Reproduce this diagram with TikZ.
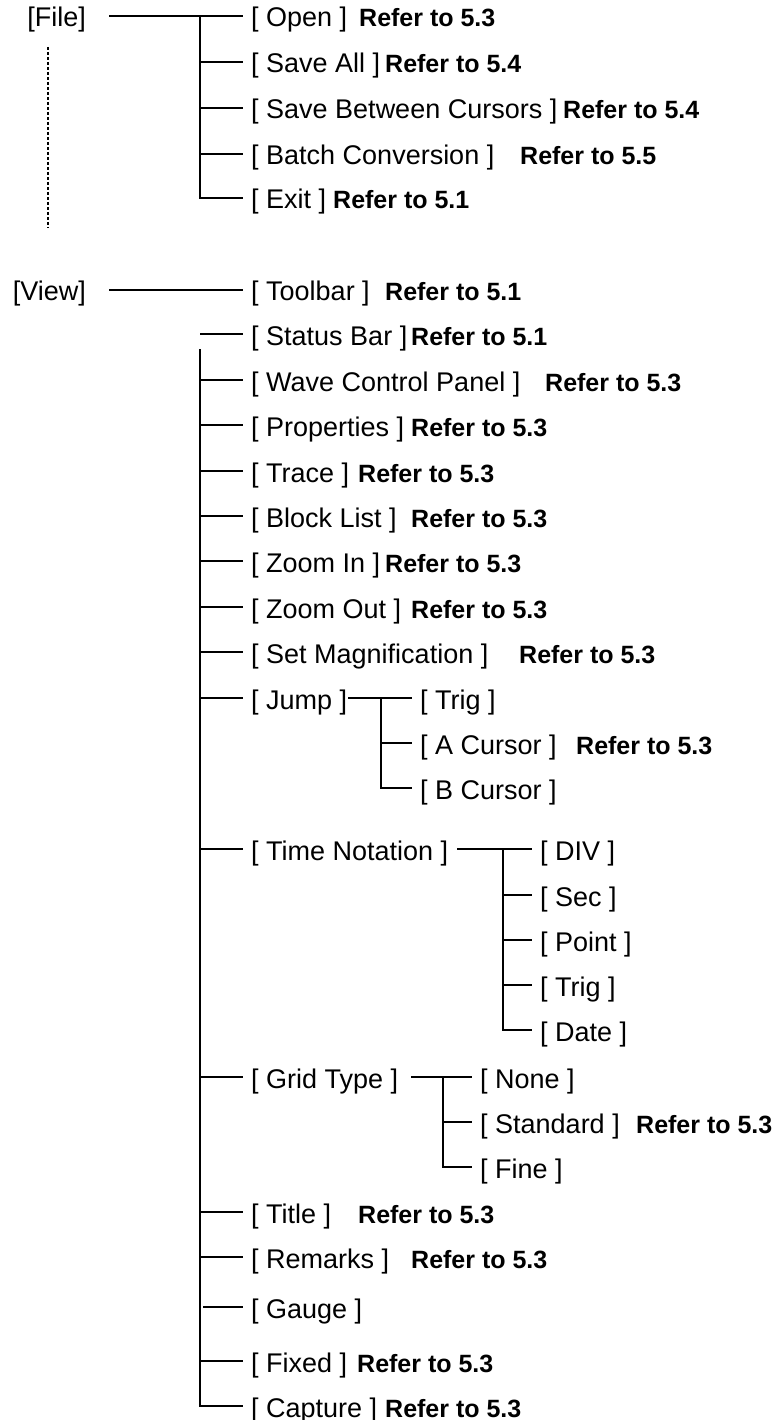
\documentclass[tikz,border=0pt]{standalone}
\usepackage{fontspec}
\setmainfont{Liberation Sans}
\usetikzlibrary{positioning}
\tikzset{
	menu/.style={anchor=west, inner xsep=8pt, inner ysep=0pt, text height=22pt, text depth=0pt, font=\fontsize{27pt}{31pt}\selectfont},
	refer/.style={anchor=west, inner sep=0pt, text height=22pt, text depth=0pt, font=\fontsize{25pt}{30pt}\selectfont\bfseries},
	rootmenu/.style={anchor=east, inner sep=0pt, text height=22pt, text depth=0pt, font=\fontsize{27pt}{31pt}\selectfont},
	tree/.style={line width=2pt}
}

\begin{document}
\begin{tikzpicture}[x=1pt, y=-1pt]
		\useasboundingbox (0,0) rectangle (776,1420);
		% File menu
		\node[rootmenu] (file) at (86,16) {[File]};
		\node[menu] (open) at (243,16) {[ Open ]};
		\node[menu] (saveall) at (243,62) {[ Save All ]};
		\node[menu] (savebetween) at (243,108) {[ Save Between Cursors ]};
		\node[menu] (batch) at (243,154) {[ Batch Conversion ]};
		\node[menu] (exit) at (243,198) {[ Exit ]};
		\node[refer] (r-open) at (359,16) {Refer to 5.3};
		\node[refer] (r-saveall) at (385,62) {Refer to 5.4};
		\node[refer] (r-savebetween) at (563,108) {Refer to 5.4};
		\node[refer] (r-batch) at (520,154) {Refer to 5.5};
		\node[refer] (r-exit) at (333,198) {Refer to 5.1};
		\coordinate (fileout) at (109,16);
		\coordinate (filev) at (200,16);
		\coordinate (dtop) at (48,47);
		\coordinate (dbot) at (48,228);
		\draw[tree] (fileout) -- (open.west);
		\draw[tree] (filev) -- (filev |- exit.west) -- (exit.west);
		\draw[tree] (filev |- saveall.west) -- (saveall.west);
		\draw[tree] (filev |- savebetween.west) -- (savebetween.west);
		\draw[tree] (filev |- batch.west) -- (batch.west);
		\draw[line width=1.6pt, dash pattern=on 3pt off 2pt] (dtop) -- (dbot);
		% View menu
		\node[rootmenu] (view) at (86,290) {[View]};
		\node[menu] (toolbar) at (243,290) {[ Toolbar ]};
		\node[menu] (statusbar) at (243,334) {[ Status Bar ]};
		\node[menu] (wavepanel) at (243,380) {[ Wave Control Panel ]};
		\node[menu] (properties) at (243,425) {[ Properties ]};
		\node[menu] (trace) at (243,471) {[ Trace ]};
		\node[menu] (blocklist) at (243,516) {[ Block List ]};
		\node[menu] (zoomin) at (243,561) {[ Zoom In ]};
		\node[menu] (zoomout) at (243,607) {[ Zoom Out ]};
		\node[menu] (setmag) at (243,652) {[ Set Magnification ]};
		\node[menu] (jump) at (243,698) {[ Jump ]};
		\node[menu] (timenot) at (243,849) {[ Time Notation ]};
		\node[menu] (gridtype) at (243,1077) {[ Grid Type ]};
		\node[menu] (title) at (243,1212) {[ Title ]};
		\node[menu] (remarks) at (243,1257) {[ Remarks ]};
		\node[menu] (gauge) at (243,1307) {[ Gauge ]};
		\node[menu] (fixed) at (243,1361) {[ Fixed ]};
		\node[menu] (capture) at (243,1406) {[ Capture ]};
		\node[refer] (r-toolbar) at (385,290) {Refer to 5.1};
		\node[refer] (r-statusbar) at (411,334) {Refer to 5.1};
		\node[refer] (r-wavepanel) at (545,380) {Refer to 5.3};
		\node[refer] (r-properties) at (411,425) {Refer to 5.3};
		\node[refer] (r-trace) at (358,471) {Refer to 5.3};
		\node[refer] (r-blocklist) at (411,516) {Refer to 5.3};
		\node[refer] (r-zoomin) at (385,561) {Refer to 5.3};
		\node[refer] (r-zoomout) at (411,607) {Refer to 5.3};
		\node[refer] (r-setmag) at (519,652) {Refer to 5.3};
		\node[refer] (r-title) at (358,1212) {Refer to 5.3};
		\node[refer] (r-remarks) at (411,1257) {Refer to 5.3};
		\node[refer] (r-fixed) at (357,1361) {Refer to 5.3};
		\node[refer] (r-capture) at (385,1406) {Refer to 5.3};
		% Jump submenu
		\node[menu] (jtrig) at (412,698) {[ Trig ]};
		\node[menu] (acursor) at (412,743) {[ A Cursor ]};
		\node[menu] (bcursor) at (412,788) {[ B Cursor ]};
		\node[refer] (r-acursor) at (576,743) {Refer to 5.3};
		% Time Notation submenu
		\node[menu] (div) at (532,849) {[ DIV ]};
		\node[menu] (sec) at (532,895) {[ Sec ]};
		\node[menu] (point) at (532,940) {[ Point ]};
		\node[menu] (ttrig) at (532,985) {[ Trig ]};
		\node[menu] (date) at (532,1030) {[ Date ]};
		% Grid Type submenu
		\node[menu] (none) at (472,1077) {[ None ]};
		\node[menu] (standard) at (472,1122) {[ Standard ]};
		\node[menu] (fine) at (472,1167) {[ Fine ]};
		\node[refer] (r-standard) at (636,1122) {Refer to 5.3};
		\coordinate (viewout) at (109,290);
		\coordinate (viewv) at (200,349);
		\coordinate (jumpout) at (348,698);
		\coordinate (jumpv) at (381,698);
		\coordinate (timeout) at (457,849);
		\coordinate (timev) at (503,849);
		\coordinate (gridout) at (411,1077);
		\coordinate (gridv) at (443,1077);
		\draw[tree] (viewout) -- (toolbar.west);
		\draw[tree] (viewv |- statusbar.west) -- (statusbar.west);
		\draw[tree] (viewv) -- (viewv |- capture.west) -- (capture.west);
		\draw[tree] (viewv |- wavepanel.west) -- (wavepanel.west);
		\draw[tree] (viewv |- properties.west) -- (properties.west);
		\draw[tree] (viewv |- trace.west) -- (trace.west);
		\draw[tree] (viewv |- blocklist.west) -- (blocklist.west);
		\draw[tree] (viewv |- zoomin.west) -- (zoomin.west);
		\draw[tree] (viewv |- zoomout.west) -- (zoomout.west);
		\draw[tree] (viewv |- setmag.west) -- (setmag.west);
		\draw[tree] (viewv |- jump.west) -- (jump.west);
		\draw[tree] (viewv |- timenot.west) -- (timenot.west);
		\draw[tree] (viewv |- gridtype.west) -- (gridtype.west);
		\draw[tree] (viewv |- title.west) -- (title.west);
		\draw[tree] (viewv |- remarks.west) -- (remarks.west);
		\draw[tree] ([xshift=3pt]viewv |- gauge.west) -- (gauge.west);
		\draw[tree] (viewv |- fixed.west) -- (fixed.west);
		\draw[tree] (jumpout) -- (jtrig.west);
		\draw[tree] (jumpv) -- (jumpv |- bcursor.west) -- (bcursor.west);
		\draw[tree] (jumpv |- acursor.west) -- (acursor.west);
		\draw[tree] (timeout) -- (div.west);
		\draw[tree] (timev) -- (timev |- date.west) -- (date.west);
		\draw[tree] (timev |- sec.west) -- (sec.west);
		\draw[tree] (timev |- point.west) -- (point.west);
		\draw[tree] (timev |- ttrig.west) -- (ttrig.west);
		\draw[tree] (gridout) -- (none.west);
		\draw[tree] (gridv) -- (gridv |- fine.west) -- (fine.west);
		\draw[tree] (gridv |- standard.west) -- (standard.west);
	\end{tikzpicture}
\end{document}
